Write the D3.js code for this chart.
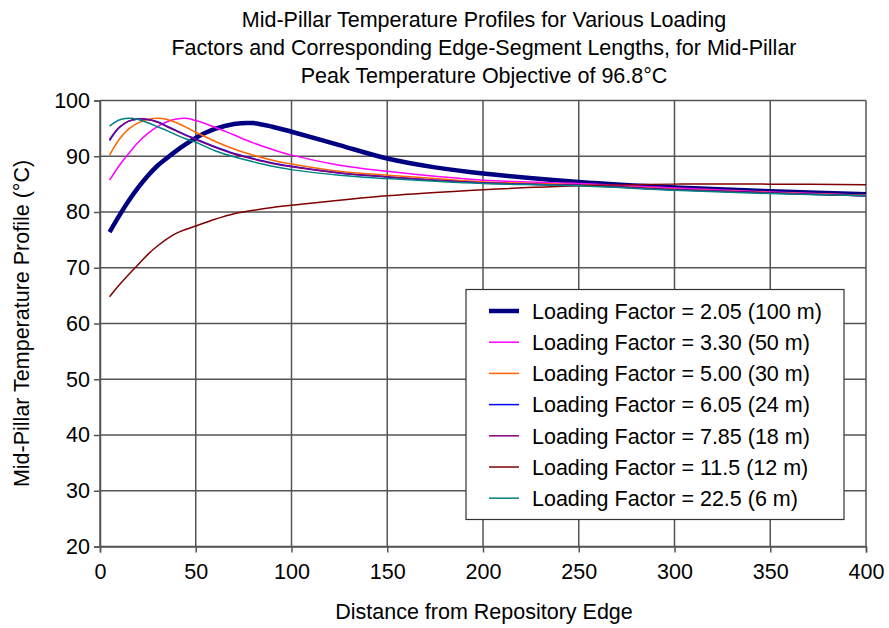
<!DOCTYPE html>
<html>
<head>
<meta charset="utf-8">
<script src="https://cdn.jsdelivr.net/npm/d3@7"></script>
<style>
  html, body { margin: 0; padding: 0; background: #fff; }
  svg { display: block; font-family: "Liberation Sans", Arial, sans-serif; }
</style>
</head>
<body>
<svg id="chart" width="889" height="628"></svg>
<script>
// ---- data ----
const titleLines = [
  "Mid-Pillar Temperature Profiles for Various Loading",
  "Factors and Corresponding Edge-Segment Lengths, for Mid-Pillar",
  "Peak Temperature Objective of 96.8\u00B0C"
];
const xLabel = "Distance from Repository Edge";
const yLabel = "Mid-Pillar Temperature Profile (\u00B0C)";
const xTicks = [0, 50, 100, 150, 200, 250, 300, 350, 400];
const yTicks = [20, 30, 40, 50, 60, 70, 80, 90, 100];

const distance = [5, 10, 15, 20, 25, 30, 35, 40, 45, 50, 60, 70, 80, 90, 100, 125, 150, 175, 200, 250, 300, 350, 400];

const seriesNames = [
  "Loading Factor = 2.05 (100 m)",
  "Loading Factor = 3.30 (50 m)",
  "Loading Factor = 5.00 (30 m)",
  "Loading Factor = 6.05 (24 m)",
  "Loading Factor = 7.85 (18 m)",
  "Loading Factor = 11.5 (12 m)",
  "Loading Factor = 22.5 (6 m)"
];
const lf205 = [76.4, 79.3, 82.0, 84.4, 86.5, 88.3, 89.7, 91.0, 92.2, 93.3, 94.9, 95.8, 95.95, 95.3, 94.4, 92.0, 89.6, 88.0, 86.9, 85.4, 84.4, 83.7, 83.2];
const lf330 = [85.7, 88.3, 90.5, 92.5, 94.1, 95.3, 96.2, 96.7, 96.8, 96.4, 95.2, 93.8, 92.4, 91.2, 90.2, 88.4, 87.3, 86.4, 85.7, 85.1, 84.3, 83.6, 83.0];
const lf500 = [90.2, 93.0, 94.9, 96.0, 96.6, 96.8, 96.6, 96.0, 95.2, 94.3, 92.7, 91.3, 90.2, 89.3, 88.6, 87.3, 86.6, 86.0, 85.4, 84.9, 84.1, 83.5, 83.0];
const lf605 = [92.8, 95.1, 96.3, 96.7, 96.6, 96.2, 95.4, 94.6, 93.8, 93.1, 91.7, 90.5, 89.6, 88.8, 88.2, 87.0, 86.3, 85.7, 85.2, 84.8, 84.0, 83.4, 82.9];
const lf785 = [93.0, 95.2, 96.3, 96.7, 96.6, 96.1, 95.3, 94.5, 93.7, 93.0, 91.6, 90.4, 89.5, 88.7, 88.1, 87.0, 86.3, 85.7, 85.2, 84.8, 84.0, 83.4, 82.9];
const lf115 = [64.8, 66.9, 68.8, 70.6, 72.4, 73.9, 75.2, 76.2, 76.9, 77.5, 78.7, 79.7, 80.3, 80.8, 81.2, 82.1, 82.9, 83.5, 84.0, 84.7, 85.0, 85.0, 84.9];
const lf225 = [95.4, 96.5, 96.8, 96.6, 96.0, 95.3, 94.6, 93.8, 93.1, 92.5, 91.0, 89.9, 89.0, 88.2, 87.6, 86.6, 86.0, 85.5, 85.1, 84.7, 83.9, 83.3, 82.9];
const seriesValues = [lf205, lf330, lf500, lf605, lf785, lf115, lf225];
const seriesColors = ["#000080", "#FF00FF", "#FF6600", "#0000FF", "#800080", "#800000", "#008080"];
const seriesWidths = [4.5, 1.5, 1.5, 1.5, 1.5, 1.5, 1.5];

// ---- layout ----
const svg = d3.select("#chart");
const plot = { left: 100, right: 866, top: 100.5, bottom: 546.5 };
const x = d3.scaleLinear().domain([0, 400]).range([plot.left, plot.right]);
const y = d3.scaleLinear().domain([20, 100]).range([plot.bottom, plot.top]);
const gridColor = "#555";
const fontSize = 21.5;

// title
svg.append("g").selectAll("text").data(titleLines).join("text")
  .attr("x", 484).attr("y", (d, i) => 27 + i * 28)
  .attr("text-anchor", "middle").attr("font-size", fontSize).attr("fill", "#000")
  .text(d => d);

// gridlines
const grid = svg.append("g");
grid.selectAll("line.h").data(yTicks).join("line")
  .attr("x1", plot.left).attr("x2", plot.right)
  .attr("y1", d => y(d)).attr("y2", d => y(d))
  .attr("stroke", gridColor).attr("stroke-width", 1.5);
grid.selectAll("line.v").data(xTicks).join("line")
  .attr("x1", d => x(d)).attr("x2", d => x(d))
  .attr("y1", plot.top).attr("y2", plot.bottom)
  .attr("stroke", gridColor).attr("stroke-width", 1.5);

// axes
const yAxis = d3.axisLeft(y).tickValues(yTicks).tickSize(6).tickPadding(4);
const gy = svg.append("g").attr("transform", `translate(${plot.left},0)`).call(yAxis);
gy.select(".domain").attr("stroke", gridColor).attr("stroke-width", 1.5);
gy.selectAll(".tick line").attr("stroke", gridColor).attr("stroke-width", 1.5);
gy.selectAll(".tick text").attr("font-size", fontSize).attr("font-family", "Liberation Sans, Arial, sans-serif").attr("fill", "#000");

const xAxis = d3.axisBottom(x).tickValues(xTicks).tickSize(6).tickPadding(11);
const gx = svg.append("g").attr("transform", `translate(0,${plot.bottom})`).call(xAxis);
gx.select(".domain").attr("stroke", gridColor).attr("stroke-width", 1.5);
gx.selectAll(".tick line").attr("stroke", gridColor).attr("stroke-width", 1.5);
gx.selectAll(".tick text").attr("font-size", fontSize).attr("font-family", "Liberation Sans, Arial, sans-serif").attr("fill", "#000");

// axis titles
svg.append("text").attr("x", 484).attr("y", 619)
  .attr("text-anchor", "middle").attr("font-size", fontSize).text(xLabel);
svg.append("text")
  .attr("transform", `translate(29,${(plot.top + plot.bottom) / 2}) rotate(-90)`)
  .attr("text-anchor", "middle").attr("font-size", fontSize).text(yLabel);

// series
const line = d3.line().x(d => x(d[0])).y(d => y(d[1])).curve(d3.curveCatmullRom.alpha(0.5));
svg.append("g").selectAll("path").data(seriesValues).join("path")
  .attr("d", vals => line(distance.map((dv, i) => [dv, vals[i]])))
  .attr("fill", "none")
  .attr("stroke", (d, i) => seriesColors[i])
  .attr("stroke-width", (d, i) => seriesWidths[i])
  .attr("stroke-linejoin", "round");

// legend
const lg = svg.append("g");
lg.append("rect").attr("x", 466).attr("y", 289.5).attr("width", 378).attr("height", 230)
  .attr("fill", "#fff").attr("stroke", "#333").attr("stroke-width", 1.2);
const items = lg.selectAll("g.item").data(seriesNames).join("g")
  .attr("transform", (d, i) => `translate(0,${311 + i * 31.2})`);
items.append("line").attr("x1", 489).attr("x2", 519).attr("y1", 0).attr("y2", 0)
  .attr("stroke", (d, i) => seriesColors[i])
  .attr("stroke-width", (d, i) => seriesWidths[i]);
items.append("text").attr("x", 532).attr("y", 0).attr("dy", "0.36em")
  .attr("font-size", fontSize).attr("fill", "#000").text(d => d);
</script>
</body>
</html>
